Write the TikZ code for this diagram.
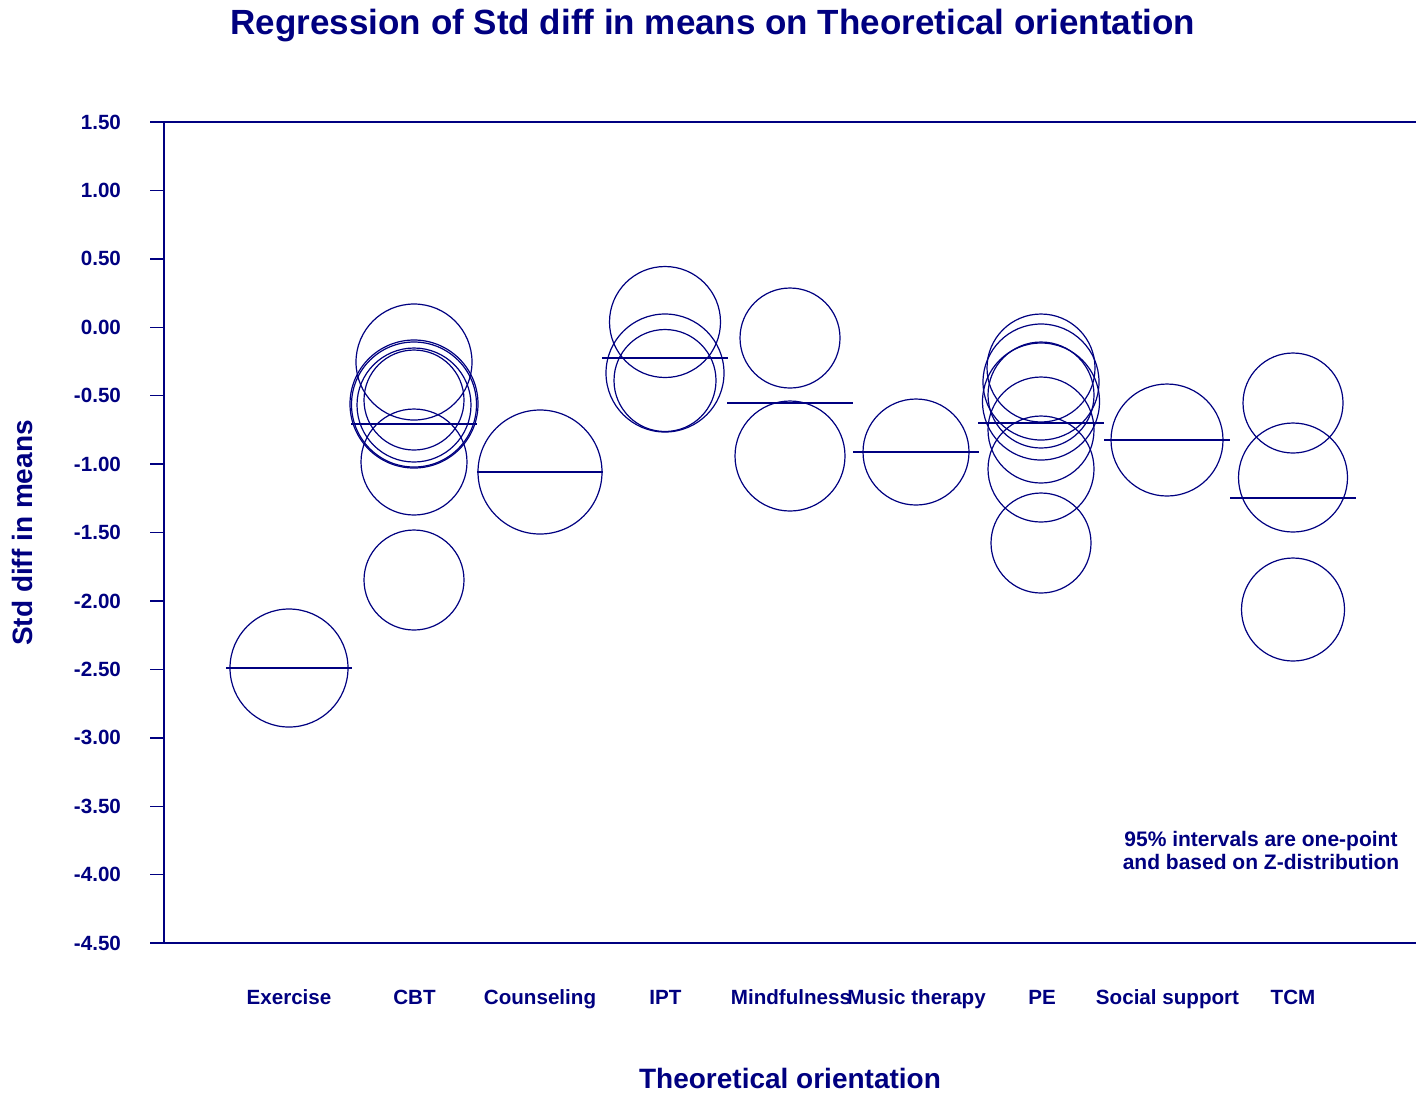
\documentclass[tikz,border=0pt]{standalone}
\usepackage{fontspec}
\setmainfont{Liberation Sans}
\definecolor{navy}{HTML}{000080}

\begin{document}
\begin{tikzpicture}[x=0.5pt,y=-0.5pt, every node/.style={text=navy,font=\fontsize{10.3}{12}\selectfont\bfseries},
    axis/.style={draw=navy,line width=0.7pt},
    bub/.style={draw=navy,line width=0.6pt},
    regline/.style={draw=navy,line width=1.2pt}]
  \useasboundingbox (0,0) rectangle (1416,1094);
  \node[font=\fontsize{17.5}{20}\selectfont\bfseries] (title) at (713,26) {Regression of Std diff in means on Theoretical orientation};
  % axes and ticks
  \draw[axis] (164,122) -- (164,943);
  \draw[axis] (150,122) -- (1416,122);
  \draw[axis] (150,943) -- (1416,943);
  \foreach \v [count=\k from 0] in {1.50,1.00,0.50,0.00,-0.50,-1.00,-1.50,-2.00,-2.50,-3.00,-3.50,-4.00,-4.50} {
    \draw[axis] (150,{122+\k*68.42}) -- (164,{122+\k*68.42});
    \node[anchor=east] (ytick\k) at (128,{122+\k*68.42}) {\v};
  }
  \foreach \c [count=\i] in {Exercise,CBT,Counseling,IPT,Mindfulness,Music therapy,PE,Social support,TCM}
    \node[anchor=base] (cat\i) at ({289+(\i-1)*125.5},1004) {\c};
  \node[font=\fontsize{14}{16}\selectfont\bfseries] (xtitle) at (790,1078) {Theoretical orientation};
  \node[rotate=90,font=\fontsize{14}{16}\selectfont\bfseries] (ytitle) at (22,533) {Std diff in means};
  \node[align=center,font=\fontsize{10.5}{11.5}\selectfont\bfseries] (note) at (1261,850) {95\% intervals are one-point\\and based on Z-distribution};
  % studies
  \foreach \cx/\cy/\r in {289/668/59,
      414/362/58,414/404/64,414/404.5/62.5,414/405/57,414/400/50,414/462/53,414/580/50,
      540/472/62,
      665/322/55.5,665/373/59,665/380.5/51,
      790/338/50,790/456/55,
      916/452/53,
      1041/368/54,1041/382/58,1041/395/53,1041/401.5/58.5,1041/430/53,1041/469/53,1041/543/50,
      1167/440/56,
      1293/403/50,1293/477.5/54.5,1293/609.5/51.5}
    \draw[bub] (\cx,\cy) circle[radius=\r*0.5pt];
  % regression line per group
  \foreach \cx/\cy in {289/668,414/424,540/472,665/358,790/403,916/452,1041/423,1167/440,1293/498}
    \draw[regline] ({\cx-63},\cy) -- ({\cx+63},\cy);
\end{tikzpicture}
\end{document}
